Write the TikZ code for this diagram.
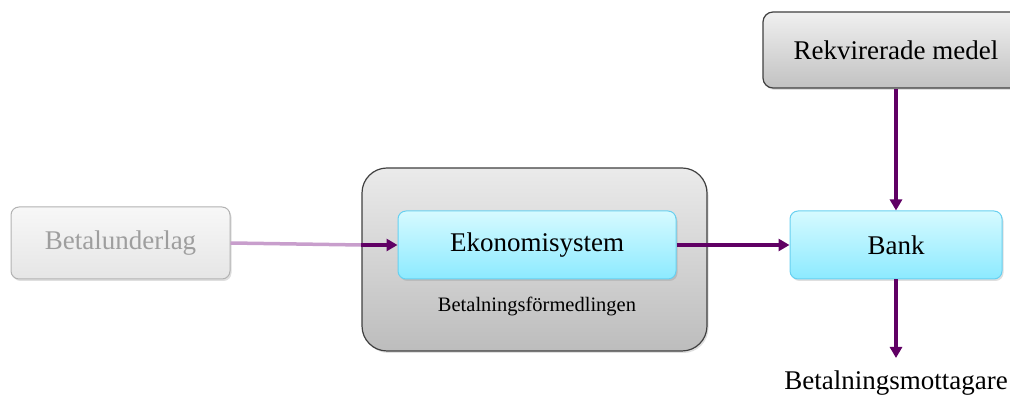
\documentclass[tikz,border=0pt]{standalone}
\usepackage{fontspec}
\setmainfont{Liberation Serif}
\usepackage{tikz}
\usetikzlibrary{arrows.meta,shadows}
\definecolor{flowcolor}{RGB}{96,0,100}
\definecolor{fadecolor}{RGB}{200,158,204}
\definecolor{cyantop}{RGB}{214,250,255}
\definecolor{cyanbottom}{RGB}{140,234,255}
\definecolor{cyanline}{RGB}{104,208,240}

\begin{document}
\begin{tikzpicture}[x=1pt, y=1pt,
    every node/.style={font=\fontsize{27}{31}\selectfont},
    softshadow/.style={drop shadow={shadow xshift=1.5pt, shadow yshift=-2pt, opacity=0.25}},
    cyanbox/.style={draw=cyanline, line width=1pt, rounded corners=8pt,
          top color=cyantop, bottom color=cyanbottom, minimum height=68pt, softshadow},
    graybox/.style={draw=black!75, line width=1.2pt, rounded corners=10pt,
          top color=black!6, bottom color=black!24, softshadow},
    flow/.style={draw=flowcolor, line width=3.5pt, -{Triangle[length=11pt, width=12pt]}}
]
    \useasboundingbox (0,0) rectangle (1010,398);

    % faded input
    \node[draw=black!30, line width=1pt, rounded corners=8pt, top color=black!3,
          bottom color=black!10, text=black!38, minimum width=219pt, minimum height=72pt,
          softshadow] (underlag) at (120.5,155) {Betalunderlag};

    % container with the accounting system
    \node[graybox, rounded corners=25pt, minimum width=345pt, minimum height=183pt,
          top color=black!8, bottom color=black!26] (formedling) at (534.5,138.5) {};
    \node[cyanbox, minimum width=278pt] (ekonomi) at (537,153) {Ekonomisystem};
    \node[font=\fontsize{20.5}{24}\selectfont] (formlabel) at (537,91) {Betalningsförmedlingen};

    \node[cyanbox, minimum width=212pt] (bank) at (896,153) {Bank};
    \node[graybox, minimum width=266pt, minimum height=76pt] (medel) at (896,348) {Rekvirerade medel};
    \node[anchor=north, inner xsep=0pt, inner ysep=13pt] (mottagare) at (896,40) {Betalningsmottagare};

    % connectors
    \draw[fadecolor, line width=3.5pt] (underlag.east) -- (formedling.west |- ekonomi.west);
    \draw[flow] (formedling.west |- ekonomi.west) -- (ekonomi.west);
    \draw[flow] (ekonomi.east) -- (bank.west);
    \draw[flow] (medel.south) -- (bank.north);
    \draw[flow] (bank.south) -- (mottagare.north);
\end{tikzpicture}
\end{document}
